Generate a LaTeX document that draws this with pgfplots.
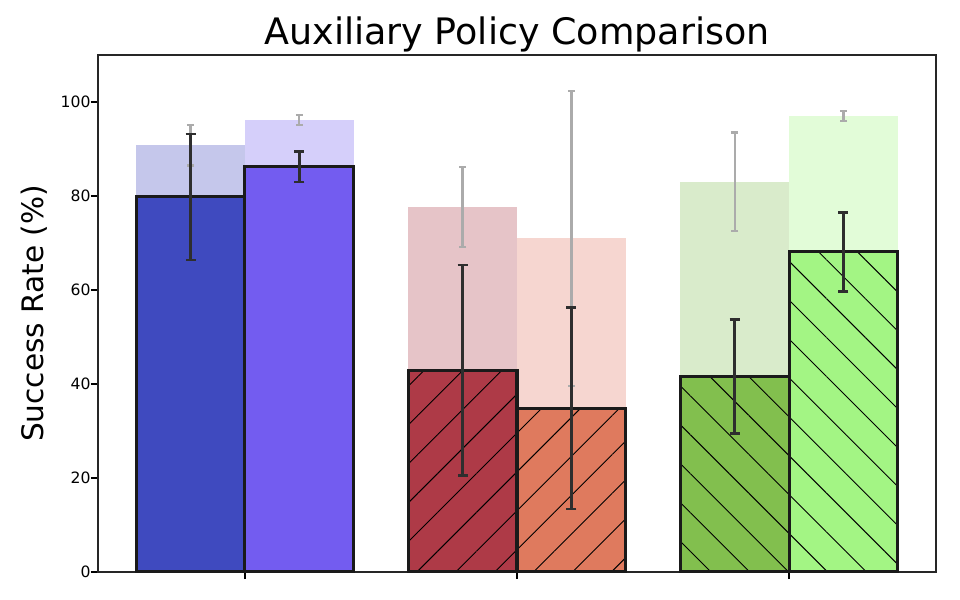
\documentclass[border=0pt]{standalone}
\usepackage{pgfplots}
\pgfplotsset{compat=1.18}
\usepackage{pgfplotstable}
\usepackage{fontspec}
\setmainfont{DejaVu Sans}
\usetikzlibrary{patterns.meta}

\definecolor{bAfg}{HTML}{3F4ABF}
\definecolor{bBfg}{HTML}{735CF0}
\definecolor{bAbg}{HTML}{C5C7EB}
\definecolor{bBbg}{HTML}{D5CFFA}
\definecolor{rAfg}{HTML}{AE3A47}
\definecolor{rBfg}{HTML}{DF7A5E}
\definecolor{rAbg}{HTML}{E6C4C8}
\definecolor{rBbg}{HTML}{F6D6D0}
\definecolor{gAfg}{HTML}{82BF4E}
\definecolor{gBfg}{HTML}{A3F584}
\definecolor{gAbg}{HTML}{D9EBCB}
\definecolor{gBbg}{HTML}{E2FCD8}
\definecolor{errgrey}{HTML}{ABABAB}
\definecolor{errdark}{HTML}{2E2E2E}
\definecolor{edge}{HTML}{1A1A1A}

\pgfplotstableread{
x    bg    bgerr  fg    fgerr
-0.2 90.8  4.3    79.8  13.4
0.2  96.2  1.1    86.2  3.2
0.8  77.7  8.5    42.9  22.4
1.2  71.0  31.4   34.8  21.4
1.8  83.0  10.5   41.6  12.1
2.2  97.0  1.1    68.1  8.4
}\datatable

\pgfplotsset{
  bgbar/.style={ybar, bar width=0.4, bar shift=0pt, draw=none, fill=#1},
  fgbar/.style={ybar, bar width=0.4, bar shift=0pt, draw=edge, line width=1.45pt, fill=#1},
}

\begin{document}
\begin{tikzpicture}
\path[use as bounding box] (-47.04pt,-13.44pt) rectangle (413.76pt,274.56pt);
\begin{axis}[
  name=ax,
  scale only axis,
  width=402.24pt, height=248.16pt,
  xmin=-0.54, xmax=2.54,
  ymin=0, ymax=110,
  xtick={0,1,2}, xticklabels={},
  ytick={0,20,40,60,80,100},
  tick pos=left,
  tick align=outside,
  major tick length=3.4pt,
  tick style={color=black, line width=0.7pt},
  axis line style={color=black!85, line width=0.7pt},
  /pgf/number format/assume math mode=true,
  yticklabel style={font=\fontsize{7.5}{9}\selectfont, anchor=east, inner sep=0pt},
  clip=false,
]
% background bars
\addplot[bgbar=bAbg] coordinates {(-0.2,90.8)};
\addplot[bgbar=bBbg] coordinates {(0.2,96.2)};
\addplot[bgbar=rAbg] coordinates {(0.8,77.7)};
\addplot[bgbar=rBbg] coordinates {(1.2,71.0)};
\addplot[bgbar=gAbg] coordinates {(1.8,83.0)};
\addplot[bgbar=gBbg] coordinates {(2.2,97.0)};
% grey error bars
\addplot[draw=none, mark=none,
  error bars/.cd, y dir=both, y explicit,
  error bar style={draw=errgrey, line width=1.1pt},
  error mark options={draw=errgrey, line width=1.1pt, mark size=1.7pt, rotate=90}]
  table[x=x, y=bg, y error=bgerr] {\datatable};
% foreground bars
\addplot[fgbar=bAfg] coordinates {(-0.2,79.8)};
\addplot[fgbar=bBfg] coordinates {(0.2,86.2)};
\addplot[fgbar=rAfg, postaction={pattern={Lines[angle=45,distance=13.2pt,line width=0.45pt]}, pattern color=black}] coordinates {(0.8,42.9)};
\addplot[fgbar=rBfg, postaction={pattern={Lines[angle=45,distance=13.2pt,line width=0.45pt]}, pattern color=black}] coordinates {(1.2,34.8)};
\addplot[fgbar=gAfg, postaction={pattern={Lines[angle=-45,distance=13.2pt,line width=0.45pt]}, pattern color=black}] coordinates {(1.8,41.6)};
\addplot[fgbar=gBfg, postaction={pattern={Lines[angle=-45,distance=13.2pt,line width=0.45pt]}, pattern color=black}] coordinates {(2.2,68.1)};
% dark error bars
\addplot[draw=none, mark=none,
  error bars/.cd, y dir=both, y explicit,
  error bar style={draw=errdark, line width=1.3pt},
  error mark options={draw=errdark, line width=1.3pt, mark size=2.4pt, rotate=90}]
  table[x=x, y=fg, y error=fgerr] {\datatable};
\end{axis}
\node[anchor=base, font=\fontsize{17.5}{21}\selectfont] at ([yshift=4.8pt]ax.north) {Auxiliary Policy Comparison};
\node[anchor=base, rotate=90, font=\fontsize{14.2}{17}\selectfont] at ([xshift=-26pt]ax.west) {Success Rate (\%)};
\end{tikzpicture}
\end{document}
